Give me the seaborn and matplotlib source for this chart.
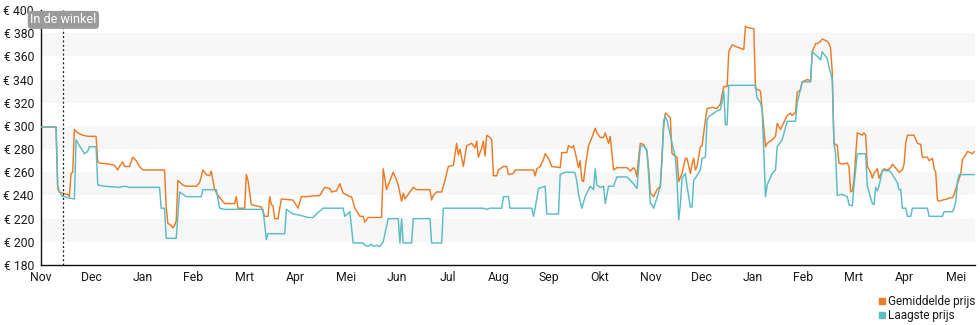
import matplotlib
matplotlib.use("Agg")
import matplotlib.pyplot as plt
from matplotlib.lines import Line2D
import numpy as np
import pandas as pd
import seaborn as sns

# Price history: day number since the first of November, price in euro
gem_dag = [0, 9, 10, 11, 13, 15, 16, 17, 18, 19, 20, 22, 25, 28, 33, 34, 35, 41, 44, 46, 47, 49, 50, 53,
           55, 57, 59, 61, 74, 75, 76, 78, 79, 80, 81, 82, 85, 87, 93, 95, 97, 99, 101, 102, 104, 106,
           110, 116, 117, 118, 122, 123, 124, 126, 132, 134, 136, 137, 138, 139, 140, 142, 143, 144, 151,
           154, 156, 159, 167, 170, 173, 174, 177, 179, 181, 185, 186, 188, 191, 193, 194, 196, 204, 205,
           207, 208, 211, 213, 214, 216, 217, 218, 220, 223, 225, 233, 234, 235, 237, 240, 242, 244, 247,
           249, 250, 251, 253, 255, 258, 260, 261, 262, 264, 265, 266, 267, 269, 270, 271, 273, 274, 277,
           279, 280, 283, 284, 295, 296, 297, 299, 301, 302, 304, 306, 311, 312, 315, 316, 318, 319, 321,
           322, 323, 324, 325, 326, 328, 330, 332, 333, 335, 337, 338, 340, 341, 343, 345, 351, 353, 355,
           356, 357, 358, 359, 361, 363, 364, 365, 367, 369, 371, 372, 373, 374, 375, 377, 378, 381, 382,
           384, 386, 387, 389, 390, 391, 392, 393, 395, 396, 398, 399, 402, 405, 407, 408, 409, 411, 412,
           413, 414, 417, 421, 422, 423, 426, 427, 428, 430, 431, 432, 434, 435, 438, 440, 441, 443, 444,
           447, 449, 450, 452, 453, 455, 456, 459, 461, 462, 464, 465, 467, 468, 471, 472, 473, 474, 475,
           477, 478, 480, 483, 484, 485, 486, 487, 489, 492, 493, 494, 495, 497, 498, 499, 501, 502, 504,
           505, 507, 509, 510, 513, 514, 516, 517, 518, 519, 523, 525, 527, 528, 531, 532, 534, 535, 536,
           537, 538, 540, 543, 544, 546, 547, 549, 551, 552, 554, 555, 558, 559]
gem_prijs = [299, 299, 246, 243, 242, 241, 241, 239, 259, 260, 297, 294, 292, 291, 291, 269, 268, 267, 266,
             262, 265, 269, 265, 265, 273, 270, 265, 262, 262, 230, 216, 214, 212, 214, 218, 253, 249, 248,
             248, 251, 262, 258, 257, 261, 245, 240, 233, 233, 239, 229, 229, 258, 253, 232, 230, 222, 222,
             239, 232, 231, 220, 220, 229, 237, 236, 229, 239, 239, 240, 247, 246, 243, 244, 250, 242, 239,
             239, 229, 222, 222, 217, 221, 221, 263, 245, 249, 260, 253, 249, 235, 242, 237, 241, 247, 245,
             245, 236, 240, 243, 243, 253, 265, 266, 285, 275, 280, 265, 283, 285, 281, 287, 273, 281, 287,
             274, 292, 290, 288, 257, 257, 262, 265, 265, 258, 259, 262, 262, 257, 263, 265, 271, 276, 272,
             265, 264, 277, 277, 283, 281, 283, 271, 264, 270, 253, 252, 264, 283, 290, 298, 294, 290, 290,
             294, 285, 291, 262, 264, 264, 261, 264, 262, 256, 273, 285, 284, 278, 263, 242, 239, 245, 248,
             273, 299, 311, 310, 307, 276, 273, 252, 259, 272, 272, 259, 267, 272, 262, 265, 282, 283, 305,
             315, 316, 315, 319, 327, 334, 334, 364, 367, 370, 368, 366, 386, 385, 384, 384, 332, 331, 330,
             314, 282, 285, 288, 291, 302, 297, 300, 309, 311, 309, 312, 329, 331, 338, 340, 339, 364, 371,
             371, 373, 375, 373, 371, 367, 346, 285, 283, 268, 267, 268, 265, 243, 244, 253, 294, 292, 294,
             292, 265, 260, 255, 259, 263, 255, 261, 263, 262, 264, 267, 262, 260, 262, 267, 285, 292, 292,
             285, 284, 273, 273, 270, 272, 263, 260, 236, 235, 236, 237, 238, 238, 241, 250, 259, 271, 275,
             278, 276, 278]

laag_dag = [0, 9, 10, 11, 13, 14, 16, 20, 21, 23, 26, 28, 29, 33, 34, 38, 47, 50, 53, 65, 71, 72, 74, 75,
            81, 83, 86, 87, 96, 97, 105, 107, 110, 133, 134, 135, 136, 146, 147, 151, 155, 160, 163, 165,
            169, 181, 182, 185, 187, 193, 194, 196, 198, 199, 201, 203, 204, 205, 208, 214, 215, 216, 217,
            222, 223, 233, 234, 240, 241, 265, 267, 269, 276, 277, 280, 281, 294, 295, 296, 298, 300, 302,
            303, 310, 311, 314, 319, 320, 321, 322, 324, 326, 329, 331, 332, 333, 335, 337, 338, 340, 343,
            345, 351, 355, 356, 357, 359, 361, 363, 364, 365, 366, 367, 369, 371, 372, 373, 374, 375, 378,
            380, 381, 382, 383, 384, 386, 387, 389, 390, 391, 392, 395, 396, 398, 399, 400, 402, 405, 407,
            408, 409, 410, 411, 412, 428, 429, 431, 432, 434, 435, 438, 440, 441, 444, 447, 452, 453, 456,
            461, 462, 465, 467, 468, 471, 472, 474, 475, 476, 477, 480, 483, 484, 486, 487, 489, 494, 495,
            498, 499, 500, 501, 502, 504, 507, 508, 510, 513, 514, 515, 516, 518, 519, 521, 522, 531, 532,
            540, 541, 546, 547, 548, 549, 550, 559]
laag_prijs = [299, 299, 249, 243, 239, 239, 238, 237, 288, 283, 276, 278, 282, 282, 249, 248, 247, 248, 247,
              247, 247, 229, 229, 203, 203, 243, 240, 239, 239, 245, 245, 229, 228, 228, 215, 202, 207, 207,
              228, 224, 223, 221, 221, 224, 229, 229, 222, 226, 199, 199, 197, 196, 198, 196, 197, 196, 198,
              200, 220, 220, 199, 220, 199, 199, 220, 220, 199, 199, 229, 229, 228, 229, 229, 239, 239, 229,
              229, 222, 229, 246, 247, 248, 224, 224, 258, 260, 260, 259, 252, 241, 229, 239, 248, 245, 263,
              249, 247, 248, 233, 248, 248, 256, 256, 250, 248, 246, 282, 283, 279, 257, 233, 232, 229, 238,
              248, 270, 305, 308, 305, 285, 273, 253, 219, 232, 255, 259, 248, 230, 230, 253, 255, 262, 272,
              273, 305, 308, 310, 313, 314, 321, 330, 301, 301, 335, 335, 324, 320, 314, 239, 249, 259, 262,
              282, 288, 304, 304, 320, 338, 338, 364, 360, 357, 364, 358, 351, 340, 285, 276, 240, 241, 239,
              232, 231, 248, 276, 276, 248, 233, 232, 247, 244, 248, 262, 261, 262, 258, 251, 245, 245, 229,
              229, 222, 222, 229, 229, 222, 222, 226, 226, 229, 235, 252, 258, 258]

maanden = ["Nov", "Dec", "Jan", "Feb", "Mrt", "Apr", "Mei", "Jun", "Jul", "Aug", "Sep", "Okt",
           "Nov", "Dec", "Jan", "Feb", "Mrt", "Apr", "Mei"]
prijs_ticks = [180, 200, 220, 240, 260, 280, 300, 320, 340, 360, 380, 400]
winkel_dag = 13.4

reeksen = ["Gemiddelde prijs", "Laagste prijs"]
kleuren = {"Gemiddelde prijs": "#ec7b26", "Laagste prijs": "#5bbcc5"}

df = pd.concat([
    pd.DataFrame({"dag": gem_dag, "prijs": gem_prijs, "reeks": reeksen[0]}),
    pd.DataFrame({"dag": laag_dag, "prijs": laag_prijs, "reeks": reeksen[1]}),
], ignore_index=True)

sns.set_style("white")
plt.rcParams["font.family"] = ["Roboto", "DejaVu Sans"]
tekst = "#1a1a1a"

fig = plt.figure(figsize=(9.8, 3.25), dpi=100)
ax = fig.add_axes([41 / 980, 60 / 325, 934 / 980, 255 / 325])

# alternating horizontal bands
for lo in prijs_ticks[1::2][:-1]:
    ax.axhspan(lo, lo + 20, color="#f7f7f7", lw=0, zorder=0)

sns.lineplot(data=df, x="dag", y="prijs", hue="reeks", hue_order=reeksen, palette=kleuren,
             estimator=None, sort=False, lw=1.05, legend=False, ax=ax, zorder=3)

ax.set_xlim(0, 559.5)
ax.set_ylim(180, 400)
maand_len = 365.25 / 12
ax.set_xticks([i * maand_len for i in range(len(maanden))])
ax.set_xticklabels(maanden)
ax.set_xticks(np.arange(0, 560, 2), minor=True)
ax.set_yticks(prijs_ticks)
ax.set_yticklabels([f"€ {v}" for v in prijs_ticks])
ax.set_xlabel("")
ax.set_ylabel("")

for side in ("top", "right"):
    ax.spines[side].set_visible(False)
for side in ("left", "bottom"):
    ax.spines[side].set_color("#111111")
    ax.spines[side].set_linewidth(1.0)

ax.tick_params(axis="x", which="major", direction="inout", length=6, width=1, color="#111111",
               labelsize=8.8, labelcolor=tekst, pad=1)
ax.tick_params(axis="x", which="minor", direction="out", length=2, width=0.5, color="#b0b0b0")
ax.tick_params(axis="y", which="major", direction="out", length=4, width=1, color="#111111",
               labelsize=8.8, labelcolor=tekst, pad=1)

# marker for the date the product entered the shops
ax.axvline(winkel_dag, color="#111111", lw=0.9, ls=(0, (1.5, 2)), zorder=4)
ax.text(winkel_dag, 391.5, "In de winkel", ha="center", va="center", fontsize=9, color="white",
        zorder=5, bbox=dict(boxstyle="round,pad=0.2,rounding_size=0.3", fc="#9b9b9b", ec="none"))

handles = [Line2D([], [], marker="s", ls="", color=kleuren[r], markersize=5) for r in reeksen]
fig.legend(handles, reeksen, loc="upper left", bbox_to_anchor=(870 / 980, 1 - 289 / 325),
           frameon=False, fontsize=8.5, handletextpad=0.05, labelspacing=0.1, borderpad=0,
           handlelength=1.0, labelcolor=tekst)

fig.savefig("out.png", dpi=100)
